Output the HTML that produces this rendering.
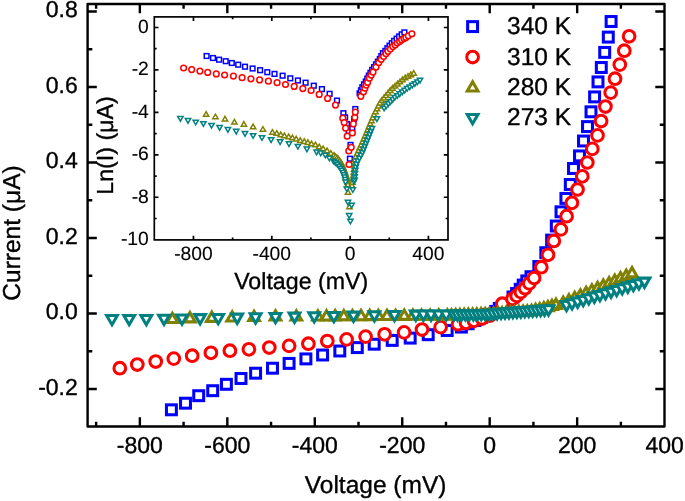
<!DOCTYPE html>
<html><head><meta charset="utf-8"><style>
html,body{margin:0;padding:0;background:#fff;width:685px;height:501px;overflow:hidden}
svg{display:block;will-change:transform}
text{fill:#000;stroke:#000;stroke-width:0.35px;text-rendering:geometricPrecision} text.i{stroke-width:0.12px}
</style></head><body>
<svg width="685" height="501" viewBox="0 0 685 501"><rect x="87.6" y="4.0" width="576.90" height="422.50" fill="none" stroke="#000" stroke-width="2.4" stroke-linejoin="round"/>
<path d="M96.13,426.5v-4.7M96.13,4.0v4.7M139.86,426.5v-9.2M139.86,4.0v9.2M183.59,426.5v-4.7M183.59,4.0v4.7M227.32,426.5v-9.2M227.32,4.0v9.2M271.05,426.5v-4.7M271.05,4.0v4.7M314.78,426.5v-9.2M314.78,4.0v9.2M358.51,426.5v-4.7M358.51,4.0v4.7M402.24,426.5v-9.2M402.24,4.0v9.2M445.97,426.5v-4.7M445.97,4.0v4.7M489.70,426.5v-9.2M489.70,4.0v9.2M533.43,426.5v-4.7M533.43,4.0v4.7M577.16,426.5v-9.2M577.16,4.0v9.2M620.89,426.5v-4.7M620.89,4.0v4.7M87.6,389.00h9.2M664.5,389.00h-9.2M87.6,351.25h4.7M664.5,351.25h-4.7M87.6,313.50h9.2M664.5,313.50h-9.2M87.6,275.75h4.7M664.5,275.75h-4.7M87.6,238.00h9.2M664.5,238.00h-9.2M87.6,200.25h4.7M664.5,200.25h-4.7M87.6,162.50h9.2M664.5,162.50h-9.2M87.6,124.75h4.7M664.5,124.75h-4.7M87.6,87.00h9.2M664.5,87.00h-9.2M87.6,49.25h4.7M664.5,49.25h-4.7M87.6,11.50h9.2M664.5,11.50h-9.2" stroke="#000" stroke-width="2.4" fill="none"/>
<text x="139.86" y="453.1" font-family="Liberation Sans, sans-serif" font-size="23.0" text-anchor="middle">-800</text>
<text x="227.32" y="453.1" font-family="Liberation Sans, sans-serif" font-size="23.0" text-anchor="middle">-600</text>
<text x="314.78" y="453.1" font-family="Liberation Sans, sans-serif" font-size="23.0" text-anchor="middle">-400</text>
<text x="402.24" y="453.1" font-family="Liberation Sans, sans-serif" font-size="23.0" text-anchor="middle">-200</text>
<text x="489.70" y="453.1" font-family="Liberation Sans, sans-serif" font-size="23.0" text-anchor="middle">0</text>
<text x="577.16" y="453.1" font-family="Liberation Sans, sans-serif" font-size="23.0" text-anchor="middle">200</text>
<text x="664.62" y="453.1" font-family="Liberation Sans, sans-serif" font-size="23.0" text-anchor="middle">400</text>
<text x="77.8" y="394.90" font-family="Liberation Sans, sans-serif" font-size="23.0" text-anchor="end">-0.2</text>
<text x="77.8" y="319.40" font-family="Liberation Sans, sans-serif" font-size="23.0" text-anchor="end">0.0</text>
<text x="77.8" y="243.90" font-family="Liberation Sans, sans-serif" font-size="23.0" text-anchor="end">0.2</text>
<text x="77.8" y="168.40" font-family="Liberation Sans, sans-serif" font-size="23.0" text-anchor="end">0.4</text>
<text x="77.8" y="92.90" font-family="Liberation Sans, sans-serif" font-size="23.0" text-anchor="end">0.6</text>
<text x="77.8" y="17.40" font-family="Liberation Sans, sans-serif" font-size="23.0" text-anchor="end">0.8</text>
<text x="375.6" y="493.2" font-family="Liberation Sans, sans-serif" font-size="24.5" text-anchor="middle">Voltage (mV)</text>
<text transform="translate(20,233.0) rotate(-90)" font-family="Liberation Sans, sans-serif" font-size="24.5" text-anchor="middle">Current (μA)</text>
<rect x="467.65" y="21.65" width="9.90" height="9.90" fill="#fff" stroke="#0000ff" stroke-width="3.05"/>
<text x="507" y="34.4" font-family="Liberation Sans, sans-serif" font-size="24.5">340 K</text>
<circle cx="472.60" cy="57.00" r="5.85" fill="#fff" stroke="#ff0000" stroke-width="3.05"/>
<text x="507" y="64.7" font-family="Liberation Sans, sans-serif" font-size="24.5">310 K</text>
<polygon points="472.60,81.72 477.95,90.99 467.25,90.99" fill="#fff" stroke="#808000" stroke-width="3.05" stroke-linejoin="miter"/>
<text x="507" y="95.0" font-family="Liberation Sans, sans-serif" font-size="24.5">280 K</text>
<polygon points="467.25,114.51 477.95,114.51 472.60,123.78" fill="#fff" stroke="#008080" stroke-width="3.05" stroke-linejoin="miter"/>
<text x="507" y="125.3" font-family="Liberation Sans, sans-serif" font-size="24.5">273 K</text>
<rect x="166.45" y="404.85" width="9.90" height="9.90" fill="#fff" stroke="#0000ff" stroke-width="3.05"/>
<rect x="180.55" y="398.25" width="9.90" height="9.90" fill="#fff" stroke="#0000ff" stroke-width="3.05"/>
<rect x="193.75" y="390.75" width="9.90" height="9.90" fill="#fff" stroke="#0000ff" stroke-width="3.05"/>
<rect x="207.75" y="385.75" width="9.90" height="9.90" fill="#fff" stroke="#0000ff" stroke-width="3.05"/>
<rect x="221.45" y="379.35" width="9.90" height="9.90" fill="#fff" stroke="#0000ff" stroke-width="3.05"/>
<rect x="236.05" y="373.55" width="9.90" height="9.90" fill="#fff" stroke="#0000ff" stroke-width="3.05"/>
<rect x="250.65" y="368.25" width="9.90" height="9.90" fill="#fff" stroke="#0000ff" stroke-width="3.05"/>
<rect x="267.55" y="363.25" width="9.90" height="9.90" fill="#fff" stroke="#0000ff" stroke-width="3.05"/>
<rect x="284.15" y="358.45" width="9.90" height="9.90" fill="#fff" stroke="#0000ff" stroke-width="3.05"/>
<rect x="300.95" y="353.95" width="9.90" height="9.90" fill="#fff" stroke="#0000ff" stroke-width="3.05"/>
<rect x="317.65" y="350.05" width="9.90" height="9.90" fill="#fff" stroke="#0000ff" stroke-width="3.05"/>
<rect x="334.85" y="346.05" width="9.90" height="9.90" fill="#fff" stroke="#0000ff" stroke-width="3.05"/>
<rect x="352.35" y="342.65" width="9.90" height="9.90" fill="#fff" stroke="#0000ff" stroke-width="3.05"/>
<rect x="369.25" y="339.25" width="9.90" height="9.90" fill="#fff" stroke="#0000ff" stroke-width="3.05"/>
<rect x="387.25" y="335.45" width="9.90" height="9.90" fill="#fff" stroke="#0000ff" stroke-width="3.05"/>
<rect x="405.25" y="333.15" width="9.90" height="9.90" fill="#fff" stroke="#0000ff" stroke-width="3.05"/>
<rect x="423.25" y="329.75" width="9.90" height="9.90" fill="#fff" stroke="#0000ff" stroke-width="3.05"/>
<rect x="442.25" y="325.55" width="9.90" height="9.90" fill="#fff" stroke="#0000ff" stroke-width="3.05"/>
<rect x="456.45" y="322.15" width="9.90" height="9.90" fill="#fff" stroke="#0000ff" stroke-width="3.05"/>
<rect x="463.23" y="318.83" width="9.90" height="9.90" fill="#fff" stroke="#0000ff" stroke-width="3.05"/>
<rect x="470.01" y="315.52" width="9.90" height="9.90" fill="#fff" stroke="#0000ff" stroke-width="3.05"/>
<rect x="476.83" y="312.30" width="9.90" height="9.90" fill="#fff" stroke="#0000ff" stroke-width="3.05"/>
<rect x="483.79" y="309.37" width="9.90" height="9.90" fill="#fff" stroke="#0000ff" stroke-width="3.05"/>
<rect x="490.75" y="306.45" width="9.90" height="9.90" fill="#fff" stroke="#0000ff" stroke-width="3.05"/>
<rect x="494.35" y="303.45" width="9.90" height="9.90" fill="#fff" stroke="#0000ff" stroke-width="3.05"/>
<rect x="500.35" y="301.05" width="9.90" height="9.90" fill="#fff" stroke="#0000ff" stroke-width="3.05"/>
<rect x="508.05" y="292.05" width="9.90" height="9.90" fill="#fff" stroke="#0000ff" stroke-width="3.05"/>
<rect x="511.65" y="288.55" width="9.90" height="9.90" fill="#fff" stroke="#0000ff" stroke-width="3.05"/>
<rect x="515.25" y="284.35" width="9.90" height="9.90" fill="#fff" stroke="#0000ff" stroke-width="3.05"/>
<rect x="518.25" y="280.15" width="9.90" height="9.90" fill="#fff" stroke="#0000ff" stroke-width="3.05"/>
<rect x="521.85" y="275.95" width="9.90" height="9.90" fill="#fff" stroke="#0000ff" stroke-width="3.05"/>
<rect x="526.05" y="271.75" width="9.90" height="9.90" fill="#fff" stroke="#0000ff" stroke-width="3.05"/>
<rect x="533.85" y="261.55" width="9.90" height="9.90" fill="#fff" stroke="#0000ff" stroke-width="3.05"/>
<rect x="540.85" y="247.75" width="9.90" height="9.90" fill="#fff" stroke="#0000ff" stroke-width="3.05"/>
<rect x="546.65" y="235.15" width="9.90" height="9.90" fill="#fff" stroke="#0000ff" stroke-width="3.05"/>
<rect x="551.35" y="221.05" width="9.90" height="9.90" fill="#fff" stroke="#0000ff" stroke-width="3.05"/>
<rect x="556.05" y="206.85" width="9.90" height="9.90" fill="#fff" stroke="#0000ff" stroke-width="3.05"/>
<rect x="560.95" y="193.45" width="9.90" height="9.90" fill="#fff" stroke="#0000ff" stroke-width="3.05"/>
<rect x="565.35" y="179.55" width="9.90" height="9.90" fill="#fff" stroke="#0000ff" stroke-width="3.05"/>
<rect x="568.55" y="163.55" width="9.90" height="9.90" fill="#fff" stroke="#0000ff" stroke-width="3.05"/>
<rect x="574.55" y="150.95" width="9.90" height="9.90" fill="#fff" stroke="#0000ff" stroke-width="3.05"/>
<rect x="578.55" y="136.05" width="9.90" height="9.90" fill="#fff" stroke="#0000ff" stroke-width="3.05"/>
<rect x="582.55" y="121.65" width="9.90" height="9.90" fill="#fff" stroke="#0000ff" stroke-width="3.05"/>
<rect x="586.05" y="106.85" width="9.90" height="9.90" fill="#fff" stroke="#0000ff" stroke-width="3.05"/>
<rect x="589.65" y="91.95" width="9.90" height="9.90" fill="#fff" stroke="#0000ff" stroke-width="3.05"/>
<rect x="593.05" y="76.95" width="9.90" height="9.90" fill="#fff" stroke="#0000ff" stroke-width="3.05"/>
<rect x="596.35" y="62.55" width="9.90" height="9.90" fill="#fff" stroke="#0000ff" stroke-width="3.05"/>
<rect x="599.75" y="47.45" width="9.90" height="9.90" fill="#fff" stroke="#0000ff" stroke-width="3.05"/>
<rect x="603.35" y="32.15" width="9.90" height="9.90" fill="#fff" stroke="#0000ff" stroke-width="3.05"/>
<rect x="606.15" y="16.55" width="9.90" height="9.90" fill="#fff" stroke="#0000ff" stroke-width="3.05"/>
<circle cx="119.80" cy="368.20" r="5.85" fill="#fff" stroke="#ff0000" stroke-width="3.05"/>
<circle cx="137.30" cy="364.50" r="5.85" fill="#fff" stroke="#ff0000" stroke-width="3.05"/>
<circle cx="155.70" cy="361.50" r="5.85" fill="#fff" stroke="#ff0000" stroke-width="3.05"/>
<circle cx="173.80" cy="358.60" r="5.85" fill="#fff" stroke="#ff0000" stroke-width="3.05"/>
<circle cx="192.20" cy="355.70" r="5.85" fill="#fff" stroke="#ff0000" stroke-width="3.05"/>
<circle cx="210.90" cy="352.80" r="5.85" fill="#fff" stroke="#ff0000" stroke-width="3.05"/>
<circle cx="229.90" cy="350.70" r="5.85" fill="#fff" stroke="#ff0000" stroke-width="3.05"/>
<circle cx="248.90" cy="349.30" r="5.85" fill="#fff" stroke="#ff0000" stroke-width="3.05"/>
<circle cx="269.30" cy="347.50" r="5.85" fill="#fff" stroke="#ff0000" stroke-width="3.05"/>
<circle cx="289.10" cy="345.90" r="5.85" fill="#fff" stroke="#ff0000" stroke-width="3.05"/>
<circle cx="308.40" cy="343.70" r="5.85" fill="#fff" stroke="#ff0000" stroke-width="3.05"/>
<circle cx="327.30" cy="341.00" r="5.85" fill="#fff" stroke="#ff0000" stroke-width="3.05"/>
<circle cx="346.60" cy="339.40" r="5.85" fill="#fff" stroke="#ff0000" stroke-width="3.05"/>
<circle cx="365.60" cy="336.60" r="5.85" fill="#fff" stroke="#ff0000" stroke-width="3.05"/>
<circle cx="384.60" cy="334.30" r="5.85" fill="#fff" stroke="#ff0000" stroke-width="3.05"/>
<circle cx="404.10" cy="332.40" r="5.85" fill="#fff" stroke="#ff0000" stroke-width="3.05"/>
<circle cx="422.00" cy="329.50" r="5.85" fill="#fff" stroke="#ff0000" stroke-width="3.05"/>
<circle cx="440.60" cy="327.10" r="5.85" fill="#fff" stroke="#ff0000" stroke-width="3.05"/>
<circle cx="458.00" cy="324.20" r="5.85" fill="#fff" stroke="#ff0000" stroke-width="3.05"/>
<circle cx="466.00" cy="322.80" r="5.85" fill="#fff" stroke="#ff0000" stroke-width="3.05"/>
<circle cx="474.00" cy="320.80" r="5.85" fill="#fff" stroke="#ff0000" stroke-width="3.05"/>
<circle cx="482.00" cy="318.50" r="5.85" fill="#fff" stroke="#ff0000" stroke-width="3.05"/>
<circle cx="490.00" cy="315.50" r="5.85" fill="#fff" stroke="#ff0000" stroke-width="3.05"/>
<circle cx="502.30" cy="303.70" r="5.85" fill="#fff" stroke="#ff0000" stroke-width="3.05"/>
<circle cx="512.50" cy="298.90" r="5.85" fill="#fff" stroke="#ff0000" stroke-width="3.05"/>
<circle cx="516.70" cy="295.90" r="5.85" fill="#fff" stroke="#ff0000" stroke-width="3.05"/>
<circle cx="520.90" cy="292.10" r="5.85" fill="#fff" stroke="#ff0000" stroke-width="3.05"/>
<circle cx="525.10" cy="288.20" r="5.85" fill="#fff" stroke="#ff0000" stroke-width="3.05"/>
<circle cx="529.30" cy="283.40" r="5.85" fill="#fff" stroke="#ff0000" stroke-width="3.05"/>
<circle cx="534.10" cy="278.00" r="5.85" fill="#fff" stroke="#ff0000" stroke-width="3.05"/>
<circle cx="541.30" cy="267.20" r="5.85" fill="#fff" stroke="#ff0000" stroke-width="3.05"/>
<circle cx="548.00" cy="254.80" r="5.85" fill="#fff" stroke="#ff0000" stroke-width="3.05"/>
<circle cx="553.80" cy="241.00" r="5.85" fill="#fff" stroke="#ff0000" stroke-width="3.05"/>
<circle cx="560.90" cy="229.40" r="5.85" fill="#fff" stroke="#ff0000" stroke-width="3.05"/>
<circle cx="566.60" cy="216.20" r="5.85" fill="#fff" stroke="#ff0000" stroke-width="3.05"/>
<circle cx="571.90" cy="202.80" r="5.85" fill="#fff" stroke="#ff0000" stroke-width="3.05"/>
<circle cx="577.50" cy="189.50" r="5.85" fill="#fff" stroke="#ff0000" stroke-width="3.05"/>
<circle cx="582.30" cy="176.30" r="5.85" fill="#fff" stroke="#ff0000" stroke-width="3.05"/>
<circle cx="587.30" cy="162.50" r="5.85" fill="#fff" stroke="#ff0000" stroke-width="3.05"/>
<circle cx="592.30" cy="148.90" r="5.85" fill="#fff" stroke="#ff0000" stroke-width="3.05"/>
<circle cx="597.50" cy="135.40" r="5.85" fill="#fff" stroke="#ff0000" stroke-width="3.05"/>
<circle cx="601.10" cy="121.00" r="5.85" fill="#fff" stroke="#ff0000" stroke-width="3.05"/>
<circle cx="605.40" cy="106.50" r="5.85" fill="#fff" stroke="#ff0000" stroke-width="3.05"/>
<circle cx="610.70" cy="92.60" r="5.85" fill="#fff" stroke="#ff0000" stroke-width="3.05"/>
<circle cx="615.00" cy="78.70" r="5.85" fill="#fff" stroke="#ff0000" stroke-width="3.05"/>
<circle cx="619.80" cy="64.60" r="5.85" fill="#fff" stroke="#ff0000" stroke-width="3.05"/>
<circle cx="624.30" cy="50.70" r="5.85" fill="#fff" stroke="#ff0000" stroke-width="3.05"/>
<circle cx="629.10" cy="36.30" r="5.85" fill="#fff" stroke="#ff0000" stroke-width="3.05"/>
<polygon points="172.40,313.22 177.75,322.49 167.05,322.49" fill="#fff" stroke="#808000" stroke-width="3.05" stroke-linejoin="miter"/>
<polygon points="189.90,312.62 195.25,321.89 184.55,321.89" fill="#fff" stroke="#808000" stroke-width="3.05" stroke-linejoin="miter"/>
<polygon points="211.80,312.12 217.15,321.39 206.45,321.39" fill="#fff" stroke="#808000" stroke-width="3.05" stroke-linejoin="miter"/>
<polygon points="232.20,311.82 237.55,321.09 226.85,321.09" fill="#fff" stroke="#808000" stroke-width="3.05" stroke-linejoin="miter"/>
<polygon points="254.10,311.32 259.45,320.59 248.75,320.59" fill="#fff" stroke="#808000" stroke-width="3.05" stroke-linejoin="miter"/>
<polygon points="275.50,310.72 280.85,319.99 270.15,319.99" fill="#fff" stroke="#808000" stroke-width="3.05" stroke-linejoin="miter"/>
<polygon points="296.30,310.72 301.65,319.99 290.95,319.99" fill="#fff" stroke="#808000" stroke-width="3.05" stroke-linejoin="miter"/>
<polygon points="317.90,310.72 323.25,319.99 312.55,319.99" fill="#fff" stroke="#808000" stroke-width="3.05" stroke-linejoin="miter"/>
<polygon points="326.53,310.66 331.88,319.93 321.18,319.93" fill="#fff" stroke="#808000" stroke-width="3.05" stroke-linejoin="miter"/>
<polygon points="335.17,310.60 340.52,319.87 329.82,319.87" fill="#fff" stroke="#808000" stroke-width="3.05" stroke-linejoin="miter"/>
<polygon points="343.80,310.54 349.15,319.81 338.45,319.81" fill="#fff" stroke="#808000" stroke-width="3.05" stroke-linejoin="miter"/>
<polygon points="352.43,310.48 357.78,319.75 347.08,319.75" fill="#fff" stroke="#808000" stroke-width="3.05" stroke-linejoin="miter"/>
<polygon points="361.07,310.42 366.42,319.69 355.72,319.69" fill="#fff" stroke="#808000" stroke-width="3.05" stroke-linejoin="miter"/>
<polygon points="369.70,310.36 375.05,319.63 364.35,319.63" fill="#fff" stroke="#808000" stroke-width="3.05" stroke-linejoin="miter"/>
<polygon points="378.33,310.30 383.68,319.57 372.98,319.57" fill="#fff" stroke="#808000" stroke-width="3.05" stroke-linejoin="miter"/>
<polygon points="386.97,310.24 392.32,319.51 381.62,319.51" fill="#fff" stroke="#808000" stroke-width="3.05" stroke-linejoin="miter"/>
<polygon points="395.60,310.18 400.95,319.45 390.25,319.45" fill="#fff" stroke="#808000" stroke-width="3.05" stroke-linejoin="miter"/>
<polygon points="404.23,310.12 409.58,319.39 398.88,319.39" fill="#fff" stroke="#808000" stroke-width="3.05" stroke-linejoin="miter"/>
<polygon points="412.87,310.06 418.22,319.33 407.52,319.33" fill="#fff" stroke="#808000" stroke-width="3.05" stroke-linejoin="miter"/>
<polygon points="421.50,310.00 426.85,319.27 416.15,319.27" fill="#fff" stroke="#808000" stroke-width="3.05" stroke-linejoin="miter"/>
<polygon points="430.13,309.94 435.48,319.21 424.78,319.21" fill="#fff" stroke="#808000" stroke-width="3.05" stroke-linejoin="miter"/>
<polygon points="438.77,309.88 444.12,319.15 433.42,319.15" fill="#fff" stroke="#808000" stroke-width="3.05" stroke-linejoin="miter"/>
<polygon points="447.40,309.82 452.75,319.09 442.05,319.09" fill="#fff" stroke="#808000" stroke-width="3.05" stroke-linejoin="miter"/>
<polygon points="451.50,309.72 456.85,318.99 446.15,318.99" fill="#fff" stroke="#808000" stroke-width="3.05" stroke-linejoin="miter"/>
<polygon points="455.71,309.56 461.06,318.83 450.36,318.83" fill="#fff" stroke="#808000" stroke-width="3.05" stroke-linejoin="miter"/>
<polygon points="459.93,309.40 465.28,318.67 454.58,318.67" fill="#fff" stroke="#808000" stroke-width="3.05" stroke-linejoin="miter"/>
<polygon points="464.14,309.24 469.49,318.51 458.79,318.51" fill="#fff" stroke="#808000" stroke-width="3.05" stroke-linejoin="miter"/>
<polygon points="468.35,309.08 473.70,318.35 463.00,318.35" fill="#fff" stroke="#808000" stroke-width="3.05" stroke-linejoin="miter"/>
<polygon points="472.57,308.93 477.92,318.20 467.22,318.20" fill="#fff" stroke="#808000" stroke-width="3.05" stroke-linejoin="miter"/>
<polygon points="476.78,308.79 482.13,318.05 471.43,318.05" fill="#fff" stroke="#808000" stroke-width="3.05" stroke-linejoin="miter"/>
<polygon points="481.00,308.64 486.35,317.90 475.65,317.90" fill="#fff" stroke="#808000" stroke-width="3.05" stroke-linejoin="miter"/>
<polygon points="485.21,308.49 490.56,317.76 479.86,317.76" fill="#fff" stroke="#808000" stroke-width="3.05" stroke-linejoin="miter"/>
<polygon points="489.42,308.34 494.77,317.61 484.07,317.61" fill="#fff" stroke="#808000" stroke-width="3.05" stroke-linejoin="miter"/>
<polygon points="493.63,308.06 498.98,317.33 488.28,317.33" fill="#fff" stroke="#808000" stroke-width="3.05" stroke-linejoin="miter"/>
<polygon points="497.84,307.77 503.19,317.03 492.49,317.03" fill="#fff" stroke="#808000" stroke-width="3.05" stroke-linejoin="miter"/>
<polygon points="502.04,307.47 507.39,316.73 496.69,316.73" fill="#fff" stroke="#808000" stroke-width="3.05" stroke-linejoin="miter"/>
<polygon points="506.25,307.17 511.60,316.44 500.90,316.44" fill="#fff" stroke="#808000" stroke-width="3.05" stroke-linejoin="miter"/>
<polygon points="510.46,306.87 515.81,316.14 505.11,316.14" fill="#fff" stroke="#808000" stroke-width="3.05" stroke-linejoin="miter"/>
<polygon points="514.66,306.57 520.01,315.84 509.31,315.84" fill="#fff" stroke="#808000" stroke-width="3.05" stroke-linejoin="miter"/>
<polygon points="518.87,306.27 524.22,315.54 513.52,315.54" fill="#fff" stroke="#808000" stroke-width="3.05" stroke-linejoin="miter"/>
<polygon points="523.08,305.98 528.43,315.25 517.73,315.25" fill="#fff" stroke="#808000" stroke-width="3.05" stroke-linejoin="miter"/>
<polygon points="527.28,305.70 532.63,314.97 521.93,314.97" fill="#fff" stroke="#808000" stroke-width="3.05" stroke-linejoin="miter"/>
<polygon points="531.46,305.21 536.81,314.48 526.11,314.48" fill="#fff" stroke="#808000" stroke-width="3.05" stroke-linejoin="miter"/>
<polygon points="535.58,304.33 540.93,313.60 530.23,313.60" fill="#fff" stroke="#808000" stroke-width="3.05" stroke-linejoin="miter"/>
<polygon points="539.71,303.45 545.06,312.72 534.36,312.72" fill="#fff" stroke="#808000" stroke-width="3.05" stroke-linejoin="miter"/>
<polygon points="543.83,302.57 549.18,311.84 538.48,311.84" fill="#fff" stroke="#808000" stroke-width="3.05" stroke-linejoin="miter"/>
<polygon points="547.90,301.48 553.25,310.74 542.55,310.74" fill="#fff" stroke="#808000" stroke-width="3.05" stroke-linejoin="miter"/>
<polygon points="551.95,300.30 557.30,309.57 546.60,309.57" fill="#fff" stroke="#808000" stroke-width="3.05" stroke-linejoin="miter"/>
<polygon points="556.00,299.12 561.35,308.39 550.65,308.39" fill="#fff" stroke="#808000" stroke-width="3.05" stroke-linejoin="miter"/>
<polygon points="563.20,297.12 568.55,306.39 557.85,306.39" fill="#fff" stroke="#808000" stroke-width="3.05" stroke-linejoin="miter"/>
<polygon points="568.93,294.66 574.28,303.93 563.58,303.93" fill="#fff" stroke="#808000" stroke-width="3.05" stroke-linejoin="miter"/>
<polygon points="574.67,292.21 580.02,301.47 569.32,301.47" fill="#fff" stroke="#808000" stroke-width="3.05" stroke-linejoin="miter"/>
<polygon points="580.40,289.75 585.75,299.01 575.05,299.01" fill="#fff" stroke="#808000" stroke-width="3.05" stroke-linejoin="miter"/>
<polygon points="586.13,287.29 591.48,296.56 580.78,296.56" fill="#fff" stroke="#808000" stroke-width="3.05" stroke-linejoin="miter"/>
<polygon points="591.87,284.83 597.22,294.10 586.52,294.10" fill="#fff" stroke="#808000" stroke-width="3.05" stroke-linejoin="miter"/>
<polygon points="597.60,282.37 602.95,291.64 592.25,291.64" fill="#fff" stroke="#808000" stroke-width="3.05" stroke-linejoin="miter"/>
<polygon points="603.33,279.91 608.68,289.18 597.98,289.18" fill="#fff" stroke="#808000" stroke-width="3.05" stroke-linejoin="miter"/>
<polygon points="609.07,277.46 614.42,286.72 603.72,286.72" fill="#fff" stroke="#808000" stroke-width="3.05" stroke-linejoin="miter"/>
<polygon points="614.80,275.00 620.15,284.26 609.45,284.26" fill="#fff" stroke="#808000" stroke-width="3.05" stroke-linejoin="miter"/>
<polygon points="620.53,272.54 625.88,281.81 615.18,281.81" fill="#fff" stroke="#808000" stroke-width="3.05" stroke-linejoin="miter"/>
<polygon points="626.27,270.08 631.62,279.35 620.92,279.35" fill="#fff" stroke="#808000" stroke-width="3.05" stroke-linejoin="miter"/>
<polygon points="632.00,267.62 637.35,276.89 626.65,276.89" fill="#fff" stroke="#808000" stroke-width="3.05" stroke-linejoin="miter"/>
<polygon points="106.65,315.51 117.35,315.51 112.00,324.78" fill="#fff" stroke="#008080" stroke-width="3.05" stroke-linejoin="miter"/>
<polygon points="123.85,315.51 134.55,315.51 129.20,324.78" fill="#fff" stroke="#008080" stroke-width="3.05" stroke-linejoin="miter"/>
<polygon points="140.95,315.51 151.65,315.51 146.30,324.78" fill="#fff" stroke="#008080" stroke-width="3.05" stroke-linejoin="miter"/>
<polygon points="158.65,315.21 169.35,315.21 164.00,324.48" fill="#fff" stroke="#008080" stroke-width="3.05" stroke-linejoin="miter"/>
<polygon points="176.65,314.91 187.35,314.91 182.00,324.18" fill="#fff" stroke="#008080" stroke-width="3.05" stroke-linejoin="miter"/>
<polygon points="194.75,314.61 205.45,314.61 200.10,323.88" fill="#fff" stroke="#008080" stroke-width="3.05" stroke-linejoin="miter"/>
<polygon points="212.85,314.41 223.55,314.41 218.20,323.68" fill="#fff" stroke="#008080" stroke-width="3.05" stroke-linejoin="miter"/>
<polygon points="231.85,314.11 242.55,314.11 237.20,323.38" fill="#fff" stroke="#008080" stroke-width="3.05" stroke-linejoin="miter"/>
<polygon points="250.25,313.81 260.95,313.81 255.60,323.08" fill="#fff" stroke="#008080" stroke-width="3.05" stroke-linejoin="miter"/>
<polygon points="270.15,313.41 280.85,313.41 275.50,322.68" fill="#fff" stroke="#008080" stroke-width="3.05" stroke-linejoin="miter"/>
<polygon points="289.15,313.11 299.85,313.11 294.50,322.38" fill="#fff" stroke="#008080" stroke-width="3.05" stroke-linejoin="miter"/>
<polygon points="308.85,312.71 319.55,312.71 314.20,321.98" fill="#fff" stroke="#008080" stroke-width="3.05" stroke-linejoin="miter"/>
<polygon points="328.55,312.41 339.25,312.41 333.90,321.68" fill="#fff" stroke="#008080" stroke-width="3.05" stroke-linejoin="miter"/>
<polygon points="348.15,312.11 358.85,312.11 353.50,321.38" fill="#fff" stroke="#008080" stroke-width="3.05" stroke-linejoin="miter"/>
<polygon points="369.05,311.71 379.75,311.71 374.40,320.98" fill="#fff" stroke="#008080" stroke-width="3.05" stroke-linejoin="miter"/>
<polygon points="389.15,311.41 399.85,311.41 394.50,320.68" fill="#fff" stroke="#008080" stroke-width="3.05" stroke-linejoin="miter"/>
<polygon points="410.45,311.11 421.15,311.11 415.80,320.38" fill="#fff" stroke="#008080" stroke-width="3.05" stroke-linejoin="miter"/>
<polygon points="418.05,311.09 428.75,311.09 423.40,320.36" fill="#fff" stroke="#008080" stroke-width="3.05" stroke-linejoin="miter"/>
<polygon points="425.65,311.07 436.35,311.07 431.00,320.34" fill="#fff" stroke="#008080" stroke-width="3.05" stroke-linejoin="miter"/>
<polygon points="433.25,311.05 443.95,311.05 438.60,320.32" fill="#fff" stroke="#008080" stroke-width="3.05" stroke-linejoin="miter"/>
<polygon points="440.85,311.03 451.55,311.03 446.20,320.30" fill="#fff" stroke="#008080" stroke-width="3.05" stroke-linejoin="miter"/>
<polygon points="448.45,311.01 459.15,311.01 453.80,320.28" fill="#fff" stroke="#008080" stroke-width="3.05" stroke-linejoin="miter"/>
<polygon points="452.15,310.91 462.85,310.91 457.50,320.18" fill="#fff" stroke="#008080" stroke-width="3.05" stroke-linejoin="miter"/>
<polygon points="456.11,310.85 466.81,310.85 461.46,320.12" fill="#fff" stroke="#008080" stroke-width="3.05" stroke-linejoin="miter"/>
<polygon points="460.08,310.79 470.78,310.79 465.43,320.06" fill="#fff" stroke="#008080" stroke-width="3.05" stroke-linejoin="miter"/>
<polygon points="464.04,310.73 474.74,310.73 469.39,319.99" fill="#fff" stroke="#008080" stroke-width="3.05" stroke-linejoin="miter"/>
<polygon points="468.01,310.67 478.71,310.67 473.36,319.93" fill="#fff" stroke="#008080" stroke-width="3.05" stroke-linejoin="miter"/>
<polygon points="471.97,310.61 482.67,310.61 477.32,319.87" fill="#fff" stroke="#008080" stroke-width="3.05" stroke-linejoin="miter"/>
<polygon points="475.94,310.55 486.64,310.55 481.29,319.81" fill="#fff" stroke="#008080" stroke-width="3.05" stroke-linejoin="miter"/>
<polygon points="479.90,310.48 490.60,310.48 485.25,319.75" fill="#fff" stroke="#008080" stroke-width="3.05" stroke-linejoin="miter"/>
<polygon points="483.86,310.42 494.56,310.42 489.21,319.69" fill="#fff" stroke="#008080" stroke-width="3.05" stroke-linejoin="miter"/>
<polygon points="487.81,310.06 498.51,310.06 493.16,319.33" fill="#fff" stroke="#008080" stroke-width="3.05" stroke-linejoin="miter"/>
<polygon points="491.75,309.63 502.45,309.63 497.10,318.90" fill="#fff" stroke="#008080" stroke-width="3.05" stroke-linejoin="miter"/>
<polygon points="495.70,309.24 506.40,309.24 501.05,318.50" fill="#fff" stroke="#008080" stroke-width="3.05" stroke-linejoin="miter"/>
<polygon points="499.65,308.95 510.35,308.95 505.00,318.22" fill="#fff" stroke="#008080" stroke-width="3.05" stroke-linejoin="miter"/>
<polygon points="503.60,308.67 514.30,308.67 508.95,317.93" fill="#fff" stroke="#008080" stroke-width="3.05" stroke-linejoin="miter"/>
<polygon points="507.56,308.38 518.26,308.38 512.91,317.65" fill="#fff" stroke="#008080" stroke-width="3.05" stroke-linejoin="miter"/>
<polygon points="511.51,308.09 522.21,308.09 516.86,317.36" fill="#fff" stroke="#008080" stroke-width="3.05" stroke-linejoin="miter"/>
<polygon points="515.47,307.81 526.17,307.81 520.82,317.08" fill="#fff" stroke="#008080" stroke-width="3.05" stroke-linejoin="miter"/>
<polygon points="519.42,307.52 530.12,307.52 524.77,316.79" fill="#fff" stroke="#008080" stroke-width="3.05" stroke-linejoin="miter"/>
<polygon points="523.38,307.24 534.08,307.24 528.73,316.50" fill="#fff" stroke="#008080" stroke-width="3.05" stroke-linejoin="miter"/>
<polygon points="527.33,306.95 538.03,306.95 532.68,316.22" fill="#fff" stroke="#008080" stroke-width="3.05" stroke-linejoin="miter"/>
<polygon points="531.29,306.67 541.99,306.67 536.64,315.93" fill="#fff" stroke="#008080" stroke-width="3.05" stroke-linejoin="miter"/>
<polygon points="535.24,306.38 545.94,306.38 540.59,315.65" fill="#fff" stroke="#008080" stroke-width="3.05" stroke-linejoin="miter"/>
<polygon points="539.20,306.10 549.90,306.10 544.55,315.36" fill="#fff" stroke="#008080" stroke-width="3.05" stroke-linejoin="miter"/>
<polygon points="543.15,305.81 553.85,305.81 548.50,315.08" fill="#fff" stroke="#008080" stroke-width="3.05" stroke-linejoin="miter"/>
<polygon points="561.15,301.41 571.85,301.41 566.50,310.68" fill="#fff" stroke="#008080" stroke-width="3.05" stroke-linejoin="miter"/>
<polygon points="566.72,299.75 577.42,299.75 572.07,309.01" fill="#fff" stroke="#008080" stroke-width="3.05" stroke-linejoin="miter"/>
<polygon points="572.29,298.08 582.99,298.08 577.64,307.35" fill="#fff" stroke="#008080" stroke-width="3.05" stroke-linejoin="miter"/>
<polygon points="577.86,296.42 588.56,296.42 583.21,305.68" fill="#fff" stroke="#008080" stroke-width="3.05" stroke-linejoin="miter"/>
<polygon points="583.44,294.75 594.14,294.75 588.79,304.02" fill="#fff" stroke="#008080" stroke-width="3.05" stroke-linejoin="miter"/>
<polygon points="589.01,293.09 599.71,293.09 594.36,302.36" fill="#fff" stroke="#008080" stroke-width="3.05" stroke-linejoin="miter"/>
<polygon points="594.58,291.43 605.28,291.43 599.93,300.69" fill="#fff" stroke="#008080" stroke-width="3.05" stroke-linejoin="miter"/>
<polygon points="600.15,289.76 610.85,289.76 605.50,299.03" fill="#fff" stroke="#008080" stroke-width="3.05" stroke-linejoin="miter"/>
<polygon points="605.72,288.10 616.42,288.10 611.07,297.36" fill="#fff" stroke="#008080" stroke-width="3.05" stroke-linejoin="miter"/>
<polygon points="611.29,286.43 621.99,286.43 616.64,295.70" fill="#fff" stroke="#008080" stroke-width="3.05" stroke-linejoin="miter"/>
<polygon points="616.86,284.77 627.56,284.77 622.21,294.03" fill="#fff" stroke="#008080" stroke-width="3.05" stroke-linejoin="miter"/>
<polygon points="622.44,283.10 633.14,283.10 627.79,292.37" fill="#fff" stroke="#008080" stroke-width="3.05" stroke-linejoin="miter"/>
<polygon points="628.01,281.44 638.71,281.44 633.36,290.71" fill="#fff" stroke="#008080" stroke-width="3.05" stroke-linejoin="miter"/>
<polygon points="633.58,279.78 644.28,279.78 638.93,289.04" fill="#fff" stroke="#008080" stroke-width="3.05" stroke-linejoin="miter"/>
<polygon points="639.15,278.11 649.85,278.11 644.50,287.38" fill="#fff" stroke="#008080" stroke-width="3.05" stroke-linejoin="miter"/>
<rect x="154.3" y="16.9" width="293.70" height="223.00" fill="#fff" stroke="#000" stroke-width="1.7"/>
<path d="M193.46,239.9v-4.2M193.46,16.9v4.2M232.62,239.9v-2.4M232.62,16.9v2.4M271.78,239.9v-4.2M271.78,16.9v4.2M310.94,239.9v-2.4M310.94,16.9v2.4M350.10,239.9v-4.2M350.10,16.9v4.2M389.26,239.9v-2.4M389.26,16.9v2.4M428.42,239.9v-4.2M428.42,16.9v4.2M154.3,218.48h2.4M448.0,218.48h-2.4M154.3,197.26h4.2M448.0,197.26h-4.2M154.3,176.04h2.4M448.0,176.04h-2.4M154.3,154.82h4.2M448.0,154.82h-4.2M154.3,133.60h2.4M448.0,133.60h-2.4M154.3,112.38h4.2M448.0,112.38h-4.2M154.3,91.16h2.4M448.0,91.16h-2.4M154.3,69.94h4.2M448.0,69.94h-4.2M154.3,48.72h2.4M448.0,48.72h-2.4M154.3,27.50h4.2M448.0,27.50h-4.2" stroke="#000" stroke-width="1.7" fill="none"/>
<text class="i" x="193.46" y="259.8" font-family="Liberation Sans, sans-serif" font-size="19.3" text-anchor="middle">-800</text>
<text class="i" x="271.78" y="259.8" font-family="Liberation Sans, sans-serif" font-size="19.3" text-anchor="middle">-400</text>
<text class="i" x="350.10" y="259.8" font-family="Liberation Sans, sans-serif" font-size="19.3" text-anchor="middle">0</text>
<text class="i" x="428.42" y="259.8" font-family="Liberation Sans, sans-serif" font-size="19.3" text-anchor="middle">400</text>
<text class="i" x="148.8" y="245.00" font-family="Liberation Sans, sans-serif" font-size="19.3" text-anchor="end">-10</text>
<text class="i" x="148.8" y="202.56" font-family="Liberation Sans, sans-serif" font-size="19.3" text-anchor="end">-8</text>
<text class="i" x="148.8" y="160.12" font-family="Liberation Sans, sans-serif" font-size="19.3" text-anchor="end">-6</text>
<text class="i" x="148.8" y="117.68" font-family="Liberation Sans, sans-serif" font-size="19.3" text-anchor="end">-4</text>
<text class="i" x="148.8" y="75.24" font-family="Liberation Sans, sans-serif" font-size="19.3" text-anchor="end">-2</text>
<text class="i" x="148.8" y="32.80" font-family="Liberation Sans, sans-serif" font-size="19.3" text-anchor="end">0</text>
<text x="301.2" y="288.8" font-family="Liberation Sans, sans-serif" font-size="23.2" text-anchor="middle">Voltage (mV)</text>
<text transform="translate(113,145.5) rotate(-90)" font-family="Liberation Sans, sans-serif" font-size="23.2" text-anchor="middle">Ln(I) (μA)</text>
<rect x="204.25" y="53.65" width="4.70" height="4.70" fill="#fff" stroke="#0000ff" stroke-width="1.5"/>
<rect x="210.65" y="55.65" width="4.70" height="4.70" fill="#fff" stroke="#0000ff" stroke-width="1.5"/>
<rect x="216.75" y="57.35" width="4.70" height="4.70" fill="#fff" stroke="#0000ff" stroke-width="1.5"/>
<rect x="223.35" y="58.85" width="4.70" height="4.70" fill="#fff" stroke="#0000ff" stroke-width="1.5"/>
<rect x="229.45" y="60.65" width="4.70" height="4.70" fill="#fff" stroke="#0000ff" stroke-width="1.5"/>
<rect x="235.85" y="62.35" width="4.70" height="4.70" fill="#fff" stroke="#0000ff" stroke-width="1.5"/>
<rect x="242.65" y="64.35" width="4.70" height="4.70" fill="#fff" stroke="#0000ff" stroke-width="1.5"/>
<rect x="250.25" y="66.15" width="4.70" height="4.70" fill="#fff" stroke="#0000ff" stroke-width="1.5"/>
<rect x="257.75" y="67.85" width="4.70" height="4.70" fill="#fff" stroke="#0000ff" stroke-width="1.5"/>
<rect x="264.95" y="69.85" width="4.70" height="4.70" fill="#fff" stroke="#0000ff" stroke-width="1.5"/>
<rect x="272.15" y="71.55" width="4.70" height="4.70" fill="#fff" stroke="#0000ff" stroke-width="1.5"/>
<rect x="280.25" y="73.35" width="4.70" height="4.70" fill="#fff" stroke="#0000ff" stroke-width="1.5"/>
<rect x="287.95" y="75.95" width="4.70" height="4.70" fill="#fff" stroke="#0000ff" stroke-width="1.5"/>
<rect x="295.55" y="78.15" width="4.70" height="4.70" fill="#fff" stroke="#0000ff" stroke-width="1.5"/>
<rect x="303.25" y="80.35" width="4.70" height="4.70" fill="#fff" stroke="#0000ff" stroke-width="1.5"/>
<rect x="311.45" y="83.35" width="4.70" height="4.70" fill="#fff" stroke="#0000ff" stroke-width="1.5"/>
<rect x="319.55" y="86.75" width="4.70" height="4.70" fill="#fff" stroke="#0000ff" stroke-width="1.5"/>
<rect x="327.25" y="91.45" width="4.70" height="4.70" fill="#fff" stroke="#0000ff" stroke-width="1.5"/>
<rect x="334.65" y="98.25" width="4.70" height="4.70" fill="#fff" stroke="#0000ff" stroke-width="1.5"/>
<rect x="341.05" y="110.85" width="4.70" height="4.70" fill="#fff" stroke="#0000ff" stroke-width="1.5"/>
<rect x="342.75" y="115.05" width="4.70" height="4.70" fill="#fff" stroke="#0000ff" stroke-width="1.5"/>
<rect x="344.55" y="121.65" width="4.70" height="4.70" fill="#fff" stroke="#0000ff" stroke-width="1.5"/>
<rect x="346.35" y="128.75" width="4.70" height="4.70" fill="#fff" stroke="#0000ff" stroke-width="1.5"/>
<rect x="348.15" y="142.55" width="4.70" height="4.70" fill="#fff" stroke="#0000ff" stroke-width="1.5"/>
<rect x="347.55" y="156.35" width="4.70" height="4.70" fill="#fff" stroke="#0000ff" stroke-width="1.5"/>
<rect x="349.95" y="125.75" width="4.70" height="4.70" fill="#fff" stroke="#0000ff" stroke-width="1.5"/>
<rect x="351.75" y="116.85" width="4.70" height="4.70" fill="#fff" stroke="#0000ff" stroke-width="1.5"/>
<rect x="352.95" y="106.65" width="4.70" height="4.70" fill="#fff" stroke="#0000ff" stroke-width="1.5"/>
<rect x="357.25" y="90.95" width="4.70" height="4.70" fill="#fff" stroke="#0000ff" stroke-width="1.5"/>
<rect x="358.62" y="87.91" width="4.70" height="4.70" fill="#fff" stroke="#0000ff" stroke-width="1.5"/>
<rect x="359.99" y="84.88" width="4.70" height="4.70" fill="#fff" stroke="#0000ff" stroke-width="1.5"/>
<rect x="361.64" y="82.00" width="4.70" height="4.70" fill="#fff" stroke="#0000ff" stroke-width="1.5"/>
<rect x="363.39" y="79.17" width="4.70" height="4.70" fill="#fff" stroke="#0000ff" stroke-width="1.5"/>
<rect x="364.90" y="76.21" width="4.70" height="4.70" fill="#fff" stroke="#0000ff" stroke-width="1.5"/>
<rect x="366.47" y="73.27" width="4.70" height="4.70" fill="#fff" stroke="#0000ff" stroke-width="1.5"/>
<rect x="368.12" y="70.38" width="4.70" height="4.70" fill="#fff" stroke="#0000ff" stroke-width="1.5"/>
<rect x="369.82" y="67.52" width="4.70" height="4.70" fill="#fff" stroke="#0000ff" stroke-width="1.5"/>
<rect x="371.71" y="64.77" width="4.70" height="4.70" fill="#fff" stroke="#0000ff" stroke-width="1.5"/>
<rect x="373.58" y="62.02" width="4.70" height="4.70" fill="#fff" stroke="#0000ff" stroke-width="1.5"/>
<rect x="375.46" y="59.27" width="4.70" height="4.70" fill="#fff" stroke="#0000ff" stroke-width="1.5"/>
<rect x="377.46" y="56.61" width="4.70" height="4.70" fill="#fff" stroke="#0000ff" stroke-width="1.5"/>
<rect x="378.99" y="53.67" width="4.70" height="4.70" fill="#fff" stroke="#0000ff" stroke-width="1.5"/>
<rect x="380.61" y="50.81" width="4.70" height="4.70" fill="#fff" stroke="#0000ff" stroke-width="1.5"/>
<rect x="383.00" y="48.49" width="4.70" height="4.70" fill="#fff" stroke="#0000ff" stroke-width="1.5"/>
<rect x="385.04" y="45.86" width="4.70" height="4.70" fill="#fff" stroke="#0000ff" stroke-width="1.5"/>
<rect x="387.19" y="43.32" width="4.70" height="4.70" fill="#fff" stroke="#0000ff" stroke-width="1.5"/>
<rect x="389.43" y="40.87" width="4.70" height="4.70" fill="#fff" stroke="#0000ff" stroke-width="1.5"/>
<rect x="391.79" y="38.51" width="4.70" height="4.70" fill="#fff" stroke="#0000ff" stroke-width="1.5"/>
<rect x="394.28" y="36.30" width="4.70" height="4.70" fill="#fff" stroke="#0000ff" stroke-width="1.5"/>
<rect x="396.78" y="34.11" width="4.70" height="4.70" fill="#fff" stroke="#0000ff" stroke-width="1.5"/>
<rect x="399.35" y="32.00" width="4.70" height="4.70" fill="#fff" stroke="#0000ff" stroke-width="1.5"/>
<rect x="402.05" y="30.05" width="4.70" height="4.70" fill="#fff" stroke="#0000ff" stroke-width="1.5"/>
<circle cx="183.60" cy="68.00" r="2.85" fill="#fff" stroke="#ff0000" stroke-width="1.5"/>
<circle cx="191.70" cy="69.60" r="2.85" fill="#fff" stroke="#ff0000" stroke-width="1.5"/>
<circle cx="199.90" cy="71.10" r="2.85" fill="#fff" stroke="#ff0000" stroke-width="1.5"/>
<circle cx="207.70" cy="72.40" r="2.85" fill="#fff" stroke="#ff0000" stroke-width="1.5"/>
<circle cx="216.30" cy="73.90" r="2.85" fill="#fff" stroke="#ff0000" stroke-width="1.5"/>
<circle cx="224.60" cy="75.00" r="2.85" fill="#fff" stroke="#ff0000" stroke-width="1.5"/>
<circle cx="233.40" cy="76.10" r="2.85" fill="#fff" stroke="#ff0000" stroke-width="1.5"/>
<circle cx="242.10" cy="77.70" r="2.85" fill="#fff" stroke="#ff0000" stroke-width="1.5"/>
<circle cx="250.90" cy="78.80" r="2.85" fill="#fff" stroke="#ff0000" stroke-width="1.5"/>
<circle cx="259.60" cy="79.90" r="2.85" fill="#fff" stroke="#ff0000" stroke-width="1.5"/>
<circle cx="268.40" cy="81.20" r="2.85" fill="#fff" stroke="#ff0000" stroke-width="1.5"/>
<circle cx="277.10" cy="82.70" r="2.85" fill="#fff" stroke="#ff0000" stroke-width="1.5"/>
<circle cx="285.50" cy="84.50" r="2.85" fill="#fff" stroke="#ff0000" stroke-width="1.5"/>
<circle cx="294.20" cy="86.40" r="2.85" fill="#fff" stroke="#ff0000" stroke-width="1.5"/>
<circle cx="302.80" cy="88.60" r="2.85" fill="#fff" stroke="#ff0000" stroke-width="1.5"/>
<circle cx="311.10" cy="90.50" r="2.85" fill="#fff" stroke="#ff0000" stroke-width="1.5"/>
<circle cx="319.20" cy="94.40" r="2.85" fill="#fff" stroke="#ff0000" stroke-width="1.5"/>
<circle cx="327.60" cy="98.40" r="2.85" fill="#fff" stroke="#ff0000" stroke-width="1.5"/>
<circle cx="335.50" cy="105.10" r="2.85" fill="#fff" stroke="#ff0000" stroke-width="1.5"/>
<circle cx="342.80" cy="118.20" r="2.85" fill="#fff" stroke="#ff0000" stroke-width="1.5"/>
<circle cx="344.20" cy="122.60" r="2.85" fill="#fff" stroke="#ff0000" stroke-width="1.5"/>
<circle cx="345.60" cy="128.20" r="2.85" fill="#fff" stroke="#ff0000" stroke-width="1.5"/>
<circle cx="347.20" cy="136.20" r="2.85" fill="#fff" stroke="#ff0000" stroke-width="1.5"/>
<circle cx="348.80" cy="150.90" r="2.85" fill="#fff" stroke="#ff0000" stroke-width="1.5"/>
<circle cx="349.00" cy="164.50" r="2.85" fill="#fff" stroke="#ff0000" stroke-width="1.5"/>
<circle cx="351.20" cy="147.30" r="2.85" fill="#fff" stroke="#ff0000" stroke-width="1.5"/>
<circle cx="352.40" cy="133.00" r="2.85" fill="#fff" stroke="#ff0000" stroke-width="1.5"/>
<circle cx="353.30" cy="123.90" r="2.85" fill="#fff" stroke="#ff0000" stroke-width="1.5"/>
<circle cx="354.80" cy="117.40" r="2.85" fill="#fff" stroke="#ff0000" stroke-width="1.5"/>
<circle cx="355.30" cy="112.10" r="2.85" fill="#fff" stroke="#ff0000" stroke-width="1.5"/>
<circle cx="360.80" cy="96.30" r="2.85" fill="#fff" stroke="#ff0000" stroke-width="1.5"/>
<circle cx="363.50" cy="91.80" r="2.85" fill="#fff" stroke="#ff0000" stroke-width="1.5"/>
<circle cx="364.90" cy="88.20" r="2.85" fill="#fff" stroke="#ff0000" stroke-width="1.5"/>
<circle cx="366.20" cy="85.10" r="2.85" fill="#fff" stroke="#ff0000" stroke-width="1.5"/>
<circle cx="367.60" cy="82.40" r="2.85" fill="#fff" stroke="#ff0000" stroke-width="1.5"/>
<circle cx="369.40" cy="78.20" r="2.85" fill="#fff" stroke="#ff0000" stroke-width="1.5"/>
<circle cx="371.20" cy="75.10" r="2.85" fill="#fff" stroke="#ff0000" stroke-width="1.5"/>
<circle cx="373.00" cy="72.10" r="2.85" fill="#fff" stroke="#ff0000" stroke-width="1.5"/>
<circle cx="376.10" cy="67.10" r="2.85" fill="#fff" stroke="#ff0000" stroke-width="1.5"/>
<circle cx="378.80" cy="62.60" r="2.85" fill="#fff" stroke="#ff0000" stroke-width="1.5"/>
<circle cx="381.20" cy="59.30" r="2.85" fill="#fff" stroke="#ff0000" stroke-width="1.5"/>
<circle cx="383.60" cy="56.50" r="2.85" fill="#fff" stroke="#ff0000" stroke-width="1.5"/>
<circle cx="386.00" cy="53.70" r="2.85" fill="#fff" stroke="#ff0000" stroke-width="1.5"/>
<circle cx="388.00" cy="51.30" r="2.85" fill="#fff" stroke="#ff0000" stroke-width="1.5"/>
<circle cx="390.40" cy="49.00" r="2.85" fill="#fff" stroke="#ff0000" stroke-width="1.5"/>
<circle cx="392.80" cy="46.60" r="2.85" fill="#fff" stroke="#ff0000" stroke-width="1.5"/>
<circle cx="395.20" cy="45.00" r="2.85" fill="#fff" stroke="#ff0000" stroke-width="1.5"/>
<circle cx="397.20" cy="43.00" r="2.85" fill="#fff" stroke="#ff0000" stroke-width="1.5"/>
<circle cx="399.60" cy="41.40" r="2.85" fill="#fff" stroke="#ff0000" stroke-width="1.5"/>
<circle cx="401.60" cy="39.80" r="2.85" fill="#fff" stroke="#ff0000" stroke-width="1.5"/>
<circle cx="404.00" cy="38.60" r="2.85" fill="#fff" stroke="#ff0000" stroke-width="1.5"/>
<circle cx="405.90" cy="37.40" r="2.85" fill="#fff" stroke="#ff0000" stroke-width="1.5"/>
<circle cx="408.30" cy="35.80" r="2.85" fill="#fff" stroke="#ff0000" stroke-width="1.5"/>
<circle cx="411.90" cy="33.80" r="2.85" fill="#fff" stroke="#ff0000" stroke-width="1.5"/>
<polygon points="206.10,111.74 208.75,116.33 203.45,116.33" fill="#fff" stroke="#808000" stroke-width="1.5" stroke-linejoin="miter"/>
<polygon points="215.40,114.14 218.05,118.73 212.75,118.73" fill="#fff" stroke="#808000" stroke-width="1.5" stroke-linejoin="miter"/>
<polygon points="225.00,116.34 227.65,120.93 222.35,120.93" fill="#fff" stroke="#808000" stroke-width="1.5" stroke-linejoin="miter"/>
<polygon points="234.40,119.44 237.05,124.03 231.75,124.03" fill="#fff" stroke="#808000" stroke-width="1.5" stroke-linejoin="miter"/>
<polygon points="243.90,121.54 246.55,126.13 241.25,126.13" fill="#fff" stroke="#808000" stroke-width="1.5" stroke-linejoin="miter"/>
<polygon points="253.10,124.04 255.75,128.63 250.45,128.63" fill="#fff" stroke="#808000" stroke-width="1.5" stroke-linejoin="miter"/>
<polygon points="262.90,126.64 265.55,131.23 260.25,131.23" fill="#fff" stroke="#808000" stroke-width="1.5" stroke-linejoin="miter"/>
<polygon points="272.40,129.64 275.05,134.23 269.75,134.23" fill="#fff" stroke="#808000" stroke-width="1.5" stroke-linejoin="miter"/>
<polygon points="276.80,130.64 279.45,135.23 274.15,135.23" fill="#fff" stroke="#808000" stroke-width="1.5" stroke-linejoin="miter"/>
<polygon points="280.80,132.04 283.45,136.63 278.15,136.63" fill="#fff" stroke="#808000" stroke-width="1.5" stroke-linejoin="miter"/>
<polygon points="284.40,133.04 287.05,137.63 281.75,137.63" fill="#fff" stroke="#808000" stroke-width="1.5" stroke-linejoin="miter"/>
<polygon points="288.70,134.04 291.35,138.63 286.05,138.63" fill="#fff" stroke="#808000" stroke-width="1.5" stroke-linejoin="miter"/>
<polygon points="292.40,135.24 295.05,139.83 289.75,139.83" fill="#fff" stroke="#808000" stroke-width="1.5" stroke-linejoin="miter"/>
<polygon points="296.20,136.34 298.85,140.93 293.55,140.93" fill="#fff" stroke="#808000" stroke-width="1.5" stroke-linejoin="miter"/>
<polygon points="300.30,137.84 302.95,142.43 297.65,142.43" fill="#fff" stroke="#808000" stroke-width="1.5" stroke-linejoin="miter"/>
<polygon points="304.30,138.84 306.95,143.43 301.65,143.43" fill="#fff" stroke="#808000" stroke-width="1.5" stroke-linejoin="miter"/>
<polygon points="307.90,139.84 310.55,144.43 305.25,144.43" fill="#fff" stroke="#808000" stroke-width="1.5" stroke-linejoin="miter"/>
<polygon points="311.50,141.24 314.15,145.83 308.85,145.83" fill="#fff" stroke="#808000" stroke-width="1.5" stroke-linejoin="miter"/>
<polygon points="315.40,142.24 318.05,146.83 312.75,146.83" fill="#fff" stroke="#808000" stroke-width="1.5" stroke-linejoin="miter"/>
<polygon points="319.20,144.24 321.85,148.83 316.55,148.83" fill="#fff" stroke="#808000" stroke-width="1.5" stroke-linejoin="miter"/>
<polygon points="323.20,146.04 325.85,150.63 320.55,150.63" fill="#fff" stroke="#808000" stroke-width="1.5" stroke-linejoin="miter"/>
<polygon points="327.10,148.04 329.75,152.63 324.45,152.63" fill="#fff" stroke="#808000" stroke-width="1.5" stroke-linejoin="miter"/>
<polygon points="330.90,150.64 333.55,155.23 328.25,155.23" fill="#fff" stroke="#808000" stroke-width="1.5" stroke-linejoin="miter"/>
<polygon points="334.00,152.64 336.65,157.23 331.35,157.23" fill="#fff" stroke="#808000" stroke-width="1.5" stroke-linejoin="miter"/>
<polygon points="335.51,153.89 338.16,158.48 332.86,158.48" fill="#fff" stroke="#808000" stroke-width="1.5" stroke-linejoin="miter"/>
<polygon points="337.03,155.14 339.68,159.73 334.38,159.73" fill="#fff" stroke="#808000" stroke-width="1.5" stroke-linejoin="miter"/>
<polygon points="338.42,156.50 341.07,161.09 335.77,161.09" fill="#fff" stroke="#808000" stroke-width="1.5" stroke-linejoin="miter"/>
<polygon points="339.60,158.07 342.25,162.66 336.95,162.66" fill="#fff" stroke="#808000" stroke-width="1.5" stroke-linejoin="miter"/>
<polygon points="340.77,159.64 343.42,164.23 338.12,164.23" fill="#fff" stroke="#808000" stroke-width="1.5" stroke-linejoin="miter"/>
<polygon points="341.62,161.39 344.27,165.98 338.97,165.98" fill="#fff" stroke="#808000" stroke-width="1.5" stroke-linejoin="miter"/>
<polygon points="342.40,163.20 345.05,167.79 339.75,167.79" fill="#fff" stroke="#808000" stroke-width="1.5" stroke-linejoin="miter"/>
<polygon points="343.17,165.00 345.82,169.59 340.52,169.59" fill="#fff" stroke="#808000" stroke-width="1.5" stroke-linejoin="miter"/>
<polygon points="343.94,166.80 346.59,171.39 341.29,171.39" fill="#fff" stroke="#808000" stroke-width="1.5" stroke-linejoin="miter"/>
<polygon points="344.54,168.67 347.19,173.26 341.89,173.26" fill="#fff" stroke="#808000" stroke-width="1.5" stroke-linejoin="miter"/>
<polygon points="345.13,170.54 347.78,175.13 342.48,175.13" fill="#fff" stroke="#808000" stroke-width="1.5" stroke-linejoin="miter"/>
<polygon points="345.71,172.41 348.36,177.00 343.06,177.00" fill="#fff" stroke="#808000" stroke-width="1.5" stroke-linejoin="miter"/>
<polygon points="346.30,174.29 348.95,178.87 343.65,178.87" fill="#fff" stroke="#808000" stroke-width="1.5" stroke-linejoin="miter"/>
<polygon points="346.77,176.19 349.42,180.78 344.12,180.78" fill="#fff" stroke="#808000" stroke-width="1.5" stroke-linejoin="miter"/>
<polygon points="347.18,178.10 349.83,182.69 344.53,182.69" fill="#fff" stroke="#808000" stroke-width="1.5" stroke-linejoin="miter"/>
<polygon points="347.59,180.02 350.24,184.61 344.94,184.61" fill="#fff" stroke="#808000" stroke-width="1.5" stroke-linejoin="miter"/>
<polygon points="348.00,181.94 350.65,186.53 345.35,186.53" fill="#fff" stroke="#808000" stroke-width="1.5" stroke-linejoin="miter"/>
<polygon points="348.00,189.64 350.65,194.23 345.35,194.23" fill="#fff" stroke="#808000" stroke-width="1.5" stroke-linejoin="miter"/>
<polygon points="349.40,204.14 352.05,208.73 346.75,208.73" fill="#fff" stroke="#808000" stroke-width="1.5" stroke-linejoin="miter"/>
<polygon points="352.00,182.94 354.65,187.53 349.35,187.53" fill="#fff" stroke="#808000" stroke-width="1.5" stroke-linejoin="miter"/>
<polygon points="352.44,179.71 355.09,184.30 349.79,184.30" fill="#fff" stroke="#808000" stroke-width="1.5" stroke-linejoin="miter"/>
<polygon points="352.88,176.48 355.53,181.07 350.23,181.07" fill="#fff" stroke="#808000" stroke-width="1.5" stroke-linejoin="miter"/>
<polygon points="353.32,173.25 355.97,177.84 350.67,177.84" fill="#fff" stroke="#808000" stroke-width="1.5" stroke-linejoin="miter"/>
<polygon points="353.71,170.01 356.36,174.60 351.06,174.60" fill="#fff" stroke="#808000" stroke-width="1.5" stroke-linejoin="miter"/>
<polygon points="354.07,166.77 356.72,171.36 351.42,171.36" fill="#fff" stroke="#808000" stroke-width="1.5" stroke-linejoin="miter"/>
<polygon points="354.43,163.53 357.08,168.12 351.78,168.12" fill="#fff" stroke="#808000" stroke-width="1.5" stroke-linejoin="miter"/>
<polygon points="354.79,160.29 357.44,164.88 352.14,164.88" fill="#fff" stroke="#808000" stroke-width="1.5" stroke-linejoin="miter"/>
<polygon points="355.15,157.05 357.80,161.64 352.50,161.64" fill="#fff" stroke="#808000" stroke-width="1.5" stroke-linejoin="miter"/>
<polygon points="355.83,153.90 358.48,158.49 353.18,158.49" fill="#fff" stroke="#808000" stroke-width="1.5" stroke-linejoin="miter"/>
<polygon points="357.18,150.94 359.83,155.52 354.53,155.52" fill="#fff" stroke="#808000" stroke-width="1.5" stroke-linejoin="miter"/>
<polygon points="358.54,147.97 361.19,152.56 355.89,152.56" fill="#fff" stroke="#808000" stroke-width="1.5" stroke-linejoin="miter"/>
<polygon points="359.89,145.00 362.54,149.59 357.24,149.59" fill="#fff" stroke="#808000" stroke-width="1.5" stroke-linejoin="miter"/>
<polygon points="361.25,142.04 363.90,146.63 358.60,146.63" fill="#fff" stroke="#808000" stroke-width="1.5" stroke-linejoin="miter"/>
<polygon points="362.60,139.07 365.25,143.66 359.95,143.66" fill="#fff" stroke="#808000" stroke-width="1.5" stroke-linejoin="miter"/>
<polygon points="363.96,136.11 366.61,140.70 361.31,140.70" fill="#fff" stroke="#808000" stroke-width="1.5" stroke-linejoin="miter"/>
<polygon points="365.24,133.11 367.89,137.70 362.59,137.70" fill="#fff" stroke="#808000" stroke-width="1.5" stroke-linejoin="miter"/>
<polygon points="366.49,130.10 369.14,134.69 363.84,134.69" fill="#fff" stroke="#808000" stroke-width="1.5" stroke-linejoin="miter"/>
<polygon points="367.73,127.09 370.38,131.68 365.08,131.68" fill="#fff" stroke="#808000" stroke-width="1.5" stroke-linejoin="miter"/>
<polygon points="368.98,124.08 371.63,128.67 366.33,128.67" fill="#fff" stroke="#808000" stroke-width="1.5" stroke-linejoin="miter"/>
<polygon points="370.23,121.06 372.88,125.65 367.58,125.65" fill="#fff" stroke="#808000" stroke-width="1.5" stroke-linejoin="miter"/>
<polygon points="371.47,118.05 374.12,122.64 368.82,122.64" fill="#fff" stroke="#808000" stroke-width="1.5" stroke-linejoin="miter"/>
<polygon points="372.72,115.04 375.37,119.63 370.07,119.63" fill="#fff" stroke="#808000" stroke-width="1.5" stroke-linejoin="miter"/>
<polygon points="374.08,112.08 376.73,116.67 371.43,116.67" fill="#fff" stroke="#808000" stroke-width="1.5" stroke-linejoin="miter"/>
<polygon points="375.54,109.16 378.19,113.75 372.89,113.75" fill="#fff" stroke="#808000" stroke-width="1.5" stroke-linejoin="miter"/>
<polygon points="377.00,106.25 379.65,110.84 374.35,110.84" fill="#fff" stroke="#808000" stroke-width="1.5" stroke-linejoin="miter"/>
<polygon points="378.45,103.33 381.10,107.92 375.80,107.92" fill="#fff" stroke="#808000" stroke-width="1.5" stroke-linejoin="miter"/>
<polygon points="379.91,100.42 382.56,105.01 377.26,105.01" fill="#fff" stroke="#808000" stroke-width="1.5" stroke-linejoin="miter"/>
<polygon points="381.77,97.76 384.42,102.35 379.12,102.35" fill="#fff" stroke="#808000" stroke-width="1.5" stroke-linejoin="miter"/>
<polygon points="383.89,95.29 386.54,99.88 381.24,99.88" fill="#fff" stroke="#808000" stroke-width="1.5" stroke-linejoin="miter"/>
<polygon points="386.01,92.81 388.66,97.40 383.36,97.40" fill="#fff" stroke="#808000" stroke-width="1.5" stroke-linejoin="miter"/>
<polygon points="388.13,90.34 390.78,94.93 385.48,94.93" fill="#fff" stroke="#808000" stroke-width="1.5" stroke-linejoin="miter"/>
<polygon points="390.25,87.86 392.90,92.45 387.60,92.45" fill="#fff" stroke="#808000" stroke-width="1.5" stroke-linejoin="miter"/>
<polygon points="392.55,85.57 395.20,90.16 389.90,90.16" fill="#fff" stroke="#808000" stroke-width="1.5" stroke-linejoin="miter"/>
<polygon points="395.03,83.45 397.68,88.04 392.38,88.04" fill="#fff" stroke="#808000" stroke-width="1.5" stroke-linejoin="miter"/>
<polygon points="397.51,81.33 400.16,85.92 394.86,85.92" fill="#fff" stroke="#808000" stroke-width="1.5" stroke-linejoin="miter"/>
<polygon points="399.98,79.21 402.63,83.80 397.33,83.80" fill="#fff" stroke="#808000" stroke-width="1.5" stroke-linejoin="miter"/>
<polygon points="402.46,77.09 405.11,81.68 399.81,81.68" fill="#fff" stroke="#808000" stroke-width="1.5" stroke-linejoin="miter"/>
<polygon points="405.11,75.22 407.76,79.81 402.46,79.81" fill="#fff" stroke="#808000" stroke-width="1.5" stroke-linejoin="miter"/>
<polygon points="407.98,73.66 410.63,78.25 405.33,78.25" fill="#fff" stroke="#808000" stroke-width="1.5" stroke-linejoin="miter"/>
<polygon points="410.84,72.10 413.49,76.69 408.19,76.69" fill="#fff" stroke="#808000" stroke-width="1.5" stroke-linejoin="miter"/>
<polygon points="413.70,70.54 416.35,75.13 411.05,75.13" fill="#fff" stroke="#808000" stroke-width="1.5" stroke-linejoin="miter"/>
<polygon points="177.75,116.57 183.05,116.57 180.40,121.16" fill="#fff" stroke="#008080" stroke-width="1.5" stroke-linejoin="miter"/>
<polygon points="185.35,118.57 190.65,118.57 188.00,123.16" fill="#fff" stroke="#008080" stroke-width="1.5" stroke-linejoin="miter"/>
<polygon points="193.05,120.17 198.35,120.17 195.70,124.76" fill="#fff" stroke="#008080" stroke-width="1.5" stroke-linejoin="miter"/>
<polygon points="200.75,121.67 206.05,121.67 203.40,126.26" fill="#fff" stroke="#008080" stroke-width="1.5" stroke-linejoin="miter"/>
<polygon points="208.85,123.47 214.15,123.47 211.50,128.06" fill="#fff" stroke="#008080" stroke-width="1.5" stroke-linejoin="miter"/>
<polygon points="216.95,125.57 222.25,125.57 219.60,130.16" fill="#fff" stroke="#008080" stroke-width="1.5" stroke-linejoin="miter"/>
<polygon points="225.25,127.57 230.55,127.57 227.90,132.16" fill="#fff" stroke="#008080" stroke-width="1.5" stroke-linejoin="miter"/>
<polygon points="233.55,129.37 238.85,129.37 236.20,133.96" fill="#fff" stroke="#008080" stroke-width="1.5" stroke-linejoin="miter"/>
<polygon points="242.35,131.57 247.65,131.57 245.00,136.16" fill="#fff" stroke="#008080" stroke-width="1.5" stroke-linejoin="miter"/>
<polygon points="250.45,133.67 255.75,133.67 253.10,138.26" fill="#fff" stroke="#008080" stroke-width="1.5" stroke-linejoin="miter"/>
<polygon points="259.35,135.67 264.65,135.67 262.00,140.26" fill="#fff" stroke="#008080" stroke-width="1.5" stroke-linejoin="miter"/>
<polygon points="268.45,137.87 273.75,137.87 271.10,142.46" fill="#fff" stroke="#008080" stroke-width="1.5" stroke-linejoin="miter"/>
<polygon points="277.45,139.87 282.75,139.87 280.10,144.46" fill="#fff" stroke="#008080" stroke-width="1.5" stroke-linejoin="miter"/>
<polygon points="286.35,141.87 291.65,141.87 289.00,146.46" fill="#fff" stroke="#008080" stroke-width="1.5" stroke-linejoin="miter"/>
<polygon points="295.25,144.47 300.55,144.47 297.90,149.06" fill="#fff" stroke="#008080" stroke-width="1.5" stroke-linejoin="miter"/>
<polygon points="304.25,147.07 309.55,147.07 306.90,151.66" fill="#fff" stroke="#008080" stroke-width="1.5" stroke-linejoin="miter"/>
<polygon points="313.95,150.07 319.25,150.07 316.60,154.66" fill="#fff" stroke="#008080" stroke-width="1.5" stroke-linejoin="miter"/>
<polygon points="318.05,151.07 323.35,151.07 320.70,155.66" fill="#fff" stroke="#008080" stroke-width="1.5" stroke-linejoin="miter"/>
<polygon points="322.65,153.17 327.95,153.17 325.30,157.76" fill="#fff" stroke="#008080" stroke-width="1.5" stroke-linejoin="miter"/>
<polygon points="326.75,156.27 332.05,156.27 329.40,160.86" fill="#fff" stroke="#008080" stroke-width="1.5" stroke-linejoin="miter"/>
<polygon points="330.85,159.27 336.15,159.27 333.50,163.86" fill="#fff" stroke="#008080" stroke-width="1.5" stroke-linejoin="miter"/>
<polygon points="332.81,160.78 338.11,160.78 335.46,165.37" fill="#fff" stroke="#008080" stroke-width="1.5" stroke-linejoin="miter"/>
<polygon points="334.70,162.37 340.00,162.37 337.35,166.96" fill="#fff" stroke="#008080" stroke-width="1.5" stroke-linejoin="miter"/>
<polygon points="336.31,164.25 341.61,164.25 338.96,168.84" fill="#fff" stroke="#008080" stroke-width="1.5" stroke-linejoin="miter"/>
<polygon points="337.80,166.22 343.10,166.22 340.45,170.81" fill="#fff" stroke="#008080" stroke-width="1.5" stroke-linejoin="miter"/>
<polygon points="339.07,168.34 344.37,168.34 341.72,172.93" fill="#fff" stroke="#008080" stroke-width="1.5" stroke-linejoin="miter"/>
<polygon points="340.35,170.46 345.65,170.46 343.00,175.05" fill="#fff" stroke="#008080" stroke-width="1.5" stroke-linejoin="miter"/>
<polygon points="341.19,172.79 346.49,172.79 343.84,177.38" fill="#fff" stroke="#008080" stroke-width="1.5" stroke-linejoin="miter"/>
<polygon points="342.04,175.12 347.34,175.12 344.69,179.71" fill="#fff" stroke="#008080" stroke-width="1.5" stroke-linejoin="miter"/>
<polygon points="342.58,177.52 347.88,177.52 345.23,182.11" fill="#fff" stroke="#008080" stroke-width="1.5" stroke-linejoin="miter"/>
<polygon points="342.95,179.97 348.25,179.97 345.60,184.56" fill="#fff" stroke="#008080" stroke-width="1.5" stroke-linejoin="miter"/>
<polygon points="344.15,186.97 349.45,186.97 346.80,191.56" fill="#fff" stroke="#008080" stroke-width="1.5" stroke-linejoin="miter"/>
<polygon points="350.15,187.77 355.45,187.77 352.80,192.36" fill="#fff" stroke="#008080" stroke-width="1.5" stroke-linejoin="miter"/>
<polygon points="345.35,200.37 350.65,200.37 348.00,204.96" fill="#fff" stroke="#008080" stroke-width="1.5" stroke-linejoin="miter"/>
<polygon points="348.95,203.37 354.25,203.37 351.60,207.96" fill="#fff" stroke="#008080" stroke-width="1.5" stroke-linejoin="miter"/>
<polygon points="346.55,213.57 351.85,213.57 349.20,218.16" fill="#fff" stroke="#008080" stroke-width="1.5" stroke-linejoin="miter"/>
<polygon points="347.75,219.17 353.05,219.17 350.40,223.76" fill="#fff" stroke="#008080" stroke-width="1.5" stroke-linejoin="miter"/>
<polygon points="351.35,179.47 356.65,179.47 354.00,184.06" fill="#fff" stroke="#008080" stroke-width="1.5" stroke-linejoin="miter"/>
<polygon points="351.85,177.97 357.15,177.97 354.50,182.56" fill="#fff" stroke="#008080" stroke-width="1.5" stroke-linejoin="miter"/>
<polygon points="352.05,174.74 357.35,174.74 354.70,179.33" fill="#fff" stroke="#008080" stroke-width="1.5" stroke-linejoin="miter"/>
<polygon points="352.25,171.52 357.55,171.52 354.90,176.11" fill="#fff" stroke="#008080" stroke-width="1.5" stroke-linejoin="miter"/>
<polygon points="352.61,168.31 357.91,168.31 355.26,172.90" fill="#fff" stroke="#008080" stroke-width="1.5" stroke-linejoin="miter"/>
<polygon points="353.10,165.11 358.40,165.11 355.75,169.70" fill="#fff" stroke="#008080" stroke-width="1.5" stroke-linejoin="miter"/>
<polygon points="353.93,162.01 359.23,162.01 356.58,166.60" fill="#fff" stroke="#008080" stroke-width="1.5" stroke-linejoin="miter"/>
<polygon points="355.14,159.01 360.44,159.01 357.79,163.60" fill="#fff" stroke="#008080" stroke-width="1.5" stroke-linejoin="miter"/>
<polygon points="356.72,156.19 362.02,156.19 359.37,160.78" fill="#fff" stroke="#008080" stroke-width="1.5" stroke-linejoin="miter"/>
<polygon points="358.29,153.37 363.59,153.37 360.94,157.96" fill="#fff" stroke="#008080" stroke-width="1.5" stroke-linejoin="miter"/>
<polygon points="359.74,150.49 365.04,150.49 362.39,155.08" fill="#fff" stroke="#008080" stroke-width="1.5" stroke-linejoin="miter"/>
<polygon points="360.94,147.48 366.24,147.48 363.59,152.07" fill="#fff" stroke="#008080" stroke-width="1.5" stroke-linejoin="miter"/>
<polygon points="362.14,144.48 367.44,144.48 364.79,149.07" fill="#fff" stroke="#008080" stroke-width="1.5" stroke-linejoin="miter"/>
<polygon points="363.33,141.48 368.63,141.48 365.98,146.07" fill="#fff" stroke="#008080" stroke-width="1.5" stroke-linejoin="miter"/>
<polygon points="364.53,138.47 369.83,138.47 367.18,143.06" fill="#fff" stroke="#008080" stroke-width="1.5" stroke-linejoin="miter"/>
<polygon points="365.73,135.47 371.03,135.47 368.38,140.06" fill="#fff" stroke="#008080" stroke-width="1.5" stroke-linejoin="miter"/>
<polygon points="366.94,132.47 372.24,132.47 369.59,137.06" fill="#fff" stroke="#008080" stroke-width="1.5" stroke-linejoin="miter"/>
<polygon points="368.14,129.47 373.44,129.47 370.79,134.06" fill="#fff" stroke="#008080" stroke-width="1.5" stroke-linejoin="miter"/>
<polygon points="369.35,126.47 374.65,126.47 372.00,131.06" fill="#fff" stroke="#008080" stroke-width="1.5" stroke-linejoin="miter"/>
<polygon points="374.25,116.87 379.55,116.87 376.90,121.46" fill="#fff" stroke="#008080" stroke-width="1.5" stroke-linejoin="miter"/>
<polygon points="381.45,106.17 386.75,106.17 384.10,110.76" fill="#fff" stroke="#008080" stroke-width="1.5" stroke-linejoin="miter"/>
<polygon points="383.60,104.02 388.90,104.02 386.25,108.61" fill="#fff" stroke="#008080" stroke-width="1.5" stroke-linejoin="miter"/>
<polygon points="385.75,101.87 391.05,101.87 388.40,106.46" fill="#fff" stroke="#008080" stroke-width="1.5" stroke-linejoin="miter"/>
<polygon points="387.90,99.72 393.20,99.72 390.55,104.31" fill="#fff" stroke="#008080" stroke-width="1.5" stroke-linejoin="miter"/>
<polygon points="390.05,97.57 395.35,97.57 392.70,102.16" fill="#fff" stroke="#008080" stroke-width="1.5" stroke-linejoin="miter"/>
<polygon points="392.20,95.42 397.50,95.42 394.85,100.01" fill="#fff" stroke="#008080" stroke-width="1.5" stroke-linejoin="miter"/>
<polygon points="394.66,93.64 399.96,93.64 397.31,98.23" fill="#fff" stroke="#008080" stroke-width="1.5" stroke-linejoin="miter"/>
<polygon points="397.13,91.86 402.43,91.86 399.78,96.45" fill="#fff" stroke="#008080" stroke-width="1.5" stroke-linejoin="miter"/>
<polygon points="399.59,90.08 404.89,90.08 402.24,94.67" fill="#fff" stroke="#008080" stroke-width="1.5" stroke-linejoin="miter"/>
<polygon points="402.06,88.31 407.36,88.31 404.71,92.90" fill="#fff" stroke="#008080" stroke-width="1.5" stroke-linejoin="miter"/>
<polygon points="404.53,86.53 409.83,86.53 407.18,91.12" fill="#fff" stroke="#008080" stroke-width="1.5" stroke-linejoin="miter"/>
<polygon points="407.08,84.89 412.38,84.89 409.73,89.48" fill="#fff" stroke="#008080" stroke-width="1.5" stroke-linejoin="miter"/>
<polygon points="409.65,83.26 414.95,83.26 412.30,87.85" fill="#fff" stroke="#008080" stroke-width="1.5" stroke-linejoin="miter"/>
<polygon points="412.22,81.63 417.52,81.63 414.87,86.22" fill="#fff" stroke="#008080" stroke-width="1.5" stroke-linejoin="miter"/>
<polygon points="414.78,80.00 420.08,80.00 417.43,84.59" fill="#fff" stroke="#008080" stroke-width="1.5" stroke-linejoin="miter"/>
<polygon points="417.35,78.37 422.65,78.37 420.00,82.96" fill="#fff" stroke="#008080" stroke-width="1.5" stroke-linejoin="miter"/></svg>
</body></html>
